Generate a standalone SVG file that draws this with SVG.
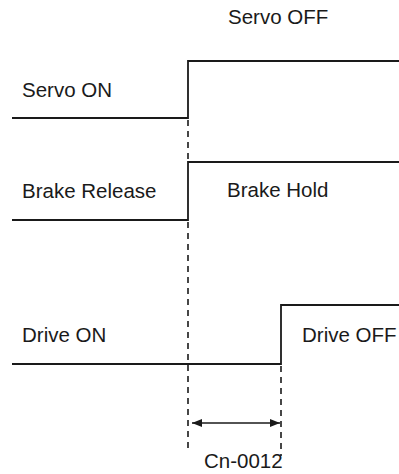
<svg xmlns="http://www.w3.org/2000/svg" width="399" height="474" viewBox="0 0 399 474">
<style>
.t{font-family:"Liberation Sans",Arial,sans-serif;font-size:20.5px;fill:#1a1a1a}
.w{fill:none;stroke:#1a1a1a;stroke-width:1.8}
.d{fill:none;stroke:#1a1a1a;stroke-width:1.6;stroke-dasharray:6 5}
.a{fill:none;stroke:#1a1a1a;stroke-width:1.5}
</style>
<defs>
<marker id="ah" viewBox="0 0 10 8" refX="10" refY="4" markerWidth="10" markerHeight="8" markerUnits="userSpaceOnUse" orient="auto-start-reverse">
<path d="M0,0 L10,4 L0,8 z" fill="#1a1a1a"/>
</marker>
</defs>
<rect width="399" height="474" fill="#fff"/>
<g id="servo">
<polyline class="w" points="12,118 188,118 188,61 399,61"/>
<text class="t" x="22" y="97">Servo ON</text>
<text class="t" x="228" y="24">Servo OFF</text>
</g>
<g id="brake">
<polyline class="w" points="12,220 188,220 188,162 399,162"/>
<text class="t" x="22" y="198">Brake Release</text>
<text class="t" x="227" y="197">Brake Hold</text>
</g>
<g id="drive">
<polyline class="w" points="12,364 281,364 281,305 399,305"/>
<text class="t" x="22" y="342">Drive ON</text>
<text class="t" x="302" y="342">Drive OFF</text>
</g>
<g id="connectors">
<line class="d" x1="188" y1="120" x2="188" y2="162"/>
<line class="d" x1="188" y1="222" x2="188" y2="452"/>
<line class="d" x1="281" y1="366" x2="281" y2="456"/>
<line class="a" x1="192" y1="423" x2="280" y2="423" marker-start="url(#ah)" marker-end="url(#ah)"/>
</g>
<g id="label">
<text class="t" x="204" y="468">Cn-0012</text>
</g>
</svg>
